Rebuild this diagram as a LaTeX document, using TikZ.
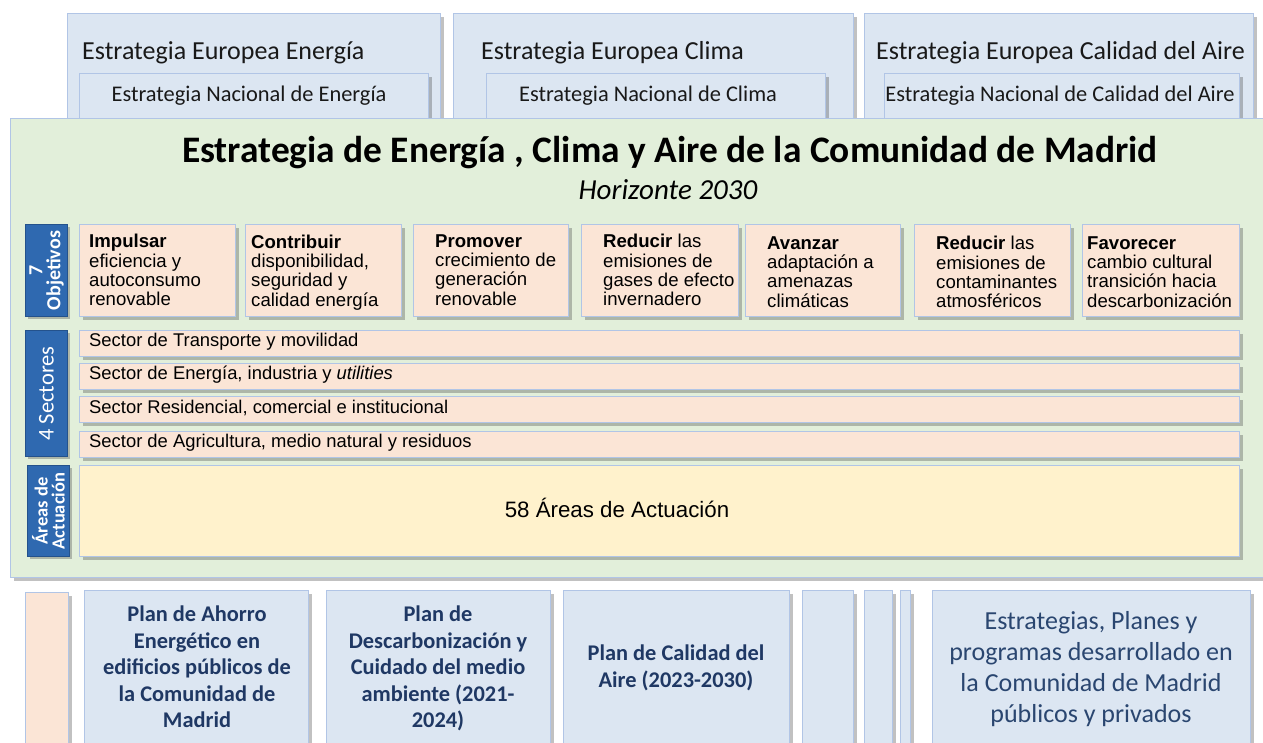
\documentclass[tikz,border=0pt]{standalone}
\usepackage{fontspec}
\setmainfont{Carlito}
\newfontfamily\arial{Liberation Sans}
\usetikzlibrary{shadows}
\definecolor{bluefill}{HTML}{DCE6F2}
\definecolor{blueline}{HTML}{B1C5E6}
\definecolor{greenfill}{HTML}{E2EFDA}
\definecolor{peach}{HTML}{FBE5D6}
\definecolor{yellowfill}{HTML}{FFF2CC}
\definecolor{labelblue}{HTML}{2F69B0}
\definecolor{labelline}{HTML}{24528C}
\definecolor{navy}{HTML}{1F3864}
\definecolor{navy2}{HTML}{2A4670}
\tikzset{
  basebox/.style={draw=blueline, line width=1.2pt, inner sep=0pt, anchor=north west,
    drop shadow={shadow xshift=3pt, shadow yshift=-3pt, opacity=0.35, fill=black!70}},
  bluebox/.style={basebox, fill=bluefill},
  greenbox/.style={basebox, fill=greenfill},
  peachbox/.style={basebox, fill=peach},
  yellowbox/.style={basebox, fill=yellowfill},
  labelbox/.style={draw=labelline, line width=1pt, fill=labelblue, inner sep=0pt, anchor=north west,
    drop shadow={shadow xshift=2pt, shadow yshift=-2pt, opacity=0.35, fill=black!70}},
  toptxt/.style={anchor=west, inner sep=0pt, font=\fontsize{26}{30}\selectfont, text=black!90},
  natxt/.style={inner sep=0pt, font=\fontsize{22.4}{26}\selectfont, text=black!90},
  objtxt/.style={anchor=west, inner sep=0pt, align=left, font=\arial\fontsize{18.6}{19.3}\selectfont, text=black},
  sectxt/.style={anchor=west, inner sep=0pt, font=\arial\fontsize{18.4}{20}\selectfont, text=black},
  labtxt/.style={rotate=90, inner sep=0pt, align=center, text=white},
  plantxt/.style={inner sep=0pt, align=center, font=\bfseries\fontsize{22.4}{26.6}\selectfont, text=navy},
}
\begin{document}
\begin{tikzpicture}[x=1pt,y=-1pt]
\useasboundingbox (0,0) rectangle (1263,742);
\clip (0,0) rectangle (1263,742);
% top european / national strategy boxes
\node[bluebox, minimum width=373, minimum height=120] (ee) at (67,13) {};
\node[toptxt] (eet) at (82,52.5) {Estrategia Europea Energía};
\node[bluebox, minimum width=349, minimum height=60] (en) at (79,73) {};
\node[natxt] (ent) at (249,96) {Estrategia Nacional de Energía};
\node[bluebox, minimum width=400, minimum height=120] (ec) at (453,13) {};
\node[toptxt] (ect) at (481,52.5) {Estrategia Europea Clima};
\node[bluebox, minimum width=339, minimum height=60] (nc) at (486,73) {};
\node[natxt] (nct) at (648,96) {Estrategia Nacional de Clima};
\node[bluebox, minimum width=389, minimum height=120] (ea) at (864,13) {};
\node[toptxt] (eat) at (876,52.5) {Estrategia Europea Calidad del Aire};
\node[bluebox, minimum width=355, minimum height=60] (na) at (884,73) {};
\node[natxt] (nat) at (1060,96) {Estrategia Nacional de Calidad del Aire};
% main green box
\node[greenbox, minimum width=1270, minimum height=459] (main) at (10,118) {};
\node[inner sep=0pt, font=\bfseries\fontsize{37.4}{42}\selectfont] (title) at (670,152.5) {Estrategia de Energía , Clima y Aire de la Comunidad de Madrid};
\node[inner sep=0pt, font=\itshape\fontsize{29}{32}\selectfont] (hor) at (668,190) {Horizonte 2030};
% objectives
\node[labelbox, minimum width=42, minimum height=92] (lobj) at (25,224) {};
\node[labtxt, font=\bfseries\fontsize{20}{18}\selectfont] (lobjt) at (lobj.center) {7\\Objetivos};
\node[peachbox, minimum width=156, minimum height=92] (o1) at (79,224) {};
\node[objtxt] (o1t) at (89,270) {\textbf{Impulsar}\\eficiencia y\\autoconsumo\\renovable};
\node[peachbox, minimum width=156, minimum height=92] (o2) at (245,224) {};
\node[objtxt] (o2t) at (251,272.5) {\textbf{Contribuir}\\disponibilidad,\\seguridad y\\calidad energía};
\node[peachbox, minimum width=155, minimum height=92] (o3) at (413,224) {};
\node[objtxt] (o3t) at (435,270) {\textbf{Promover}\\crecimiento de\\generación\\renovable};
\node[peachbox, minimum width=157, minimum height=92] (o4) at (581,224) {};
\node[objtxt] (o4t) at (603,270) {\textbf{Reducir} las\\emisiones de\\gases de efecto\\invernadero};
\node[peachbox, minimum width=155, minimum height=92] (o5) at (745,224) {};
\node[objtxt] (o5t) at (767,272) {\textbf{Avanzar}\\adaptación a\\amenazas\\climáticas};
\node[peachbox, minimum width=156, minimum height=92] (o6) at (914,224) {};
\node[objtxt] (o6t) at (936,272) {\textbf{Reducir} las\\emisiones de\\contaminantes\\atmosféricos};
\node[peachbox, minimum width=157, minimum height=92] (o7) at (1082,224) {};
\node[objtxt] (o7t) at (1087,272) {\textbf{Favorecer}\\cambio cultural\\transición hacia\\descarbonización};
% sectors
\node[labelbox, minimum width=42, minimum height=126] (lsec) at (25,330) {};
\node[labtxt, font=\fontsize{22.5}{24}\selectfont] (lsect) at (lsec.center) {4 Sectores};
\node[peachbox, minimum width=1160, minimum height=26] (s1) at (79,330) {};
\node[sectxt] (s1t) at (89,342) {Sector de Transporte y movilidad};
\node[peachbox, minimum width=1160, minimum height=26] (s2) at (79,363) {};
\node[sectxt] (s2t) at (89,375) {Sector de Energía, industria y \textit{utilities}};
\node[peachbox, minimum width=1160, minimum height=26] (s3) at (79,396) {};
\node[sectxt] (s3t) at (89,408) {Sector Residencial, comercial e institucional};
\node[peachbox, minimum width=1160, minimum height=26] (s4) at (79,431) {};
\node[sectxt] (s4t) at (89,443) {Sector de Agricultura, medio natural y residuos};
% areas
\node[labelbox, minimum width=42, minimum height=91] (lar) at (27,465) {};
\node[labtxt, font=\bfseries\fontsize{18.5}{17}\selectfont] (lart) at (lar.center) {Áreas de\\Actuación};
\node[yellowbox, minimum width=1160, minimum height=91] (ar) at (79,465) {};
\node[inner sep=0pt, font=\arial\fontsize{22.3}{26}\selectfont] (art) at (617,508) {58 Áreas de Actuación};
% bottom plans
\node[peachbox, minimum width=43, minimum height=180] (p0) at (25,592) {};
\node[bluebox, minimum width=224, minimum height=180] (p1) at (84,590) {};
\node[plantxt] (p1t) at (197,667) {Plan de Ahorro\\Energético en\\edificios públicos de\\la Comunidad de\\Madrid};
\node[bluebox, minimum width=224, minimum height=180] (p2) at (326,590) {};
\node[plantxt] (p2t) at (438,668.5) {Plan de\\Descarbonización y\\Cuidado del medio\\ambiente (2021-\\2024)};
\node[bluebox, minimum width=226, minimum height=180] (p3) at (563,590) {};
\node[plantxt] (p3t) at (676,668) {Plan de Calidad del\\Aire (2023-2030)};
\node[bluebox, minimum width=51, minimum height=180] (p4) at (802,590) {};
\node[bluebox, minimum width=28, minimum height=180] (p5) at (864,590) {};
\node[bluebox, minimum width=10, minimum height=180] (p6) at (900,590) {};
\node[bluebox, minimum width=318, minimum height=180] (p7) at (932,590) {};
\node[inner sep=0pt, align=center, font=\fontsize{26}{31}\selectfont, text=navy2] (p7t) at (1091,669) {Estrategias, Planes y\\programas desarrollado en\\la Comunidad de Madrid\\públicos y privados};
\end{tikzpicture}
\end{document}
